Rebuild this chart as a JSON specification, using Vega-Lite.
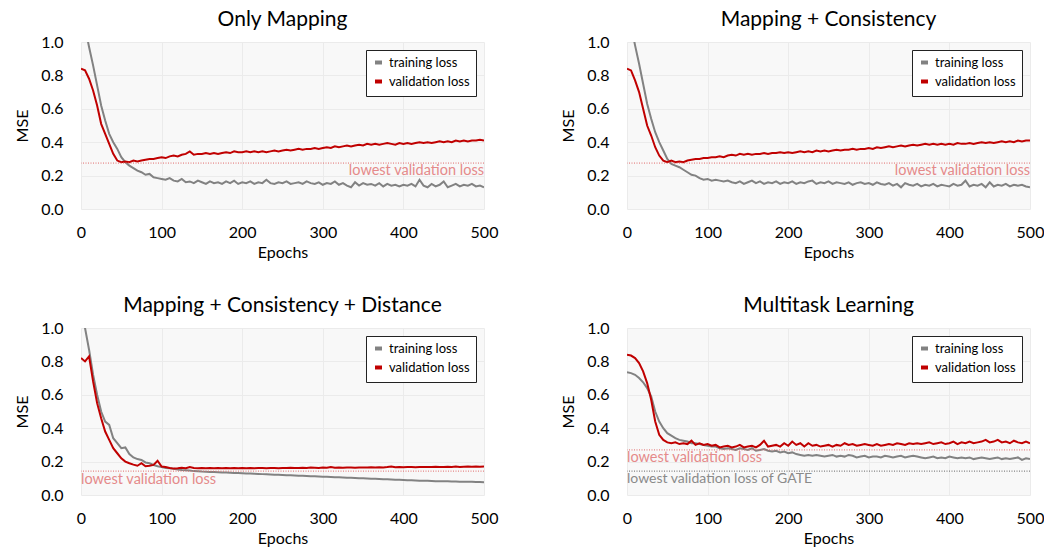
{
"$schema":"https://vega.github.io/schema/vega-lite/v6.json",
"padding":{"left":14,"top":9,"right":5,"bottom":5},
"datasets":{
"loss":[
{"p":1,"e":0,"t":1.22,"v":0.84},{"p":1,"e":5,"t":1.09,"v":0.83},{"p":1,"e":10,"t":0.97,"v":0.78},{"p":1,"e":15,"t":0.86,"v":0.71},{"p":1,"e":20,"t":0.74,"v":0.62},{"p":1,"e":25,"t":0.62,"v":0.51},{"p":1,"e":30,"t":0.53,"v":0.45},{"p":1,"e":35,"t":0.45,"v":0.39},{"p":1,"e":40,"t":0.40,"v":0.33},{"p":1,"e":45,"t":0.36,"v":0.29},
{"p":1,"e":50,"t":0.31,"v":0.28},{"p":1,"e":55,"t":0.28,"v":0.285},{"p":1,"e":60,"t":0.26,"v":0.28},{"p":1,"e":65,"t":0.245,"v":0.29},{"p":1,"e":70,"t":0.23,"v":0.285},{"p":1,"e":75,"t":0.22,"v":0.29},{"p":1,"e":80,"t":0.205,"v":0.295},{"p":1,"e":85,"t":0.21,"v":0.30},{"p":1,"e":90,"t":0.19,"v":0.30},{"p":1,"e":95,"t":0.185,"v":0.305},
{"p":1,"e":100,"t":0.18,"v":0.31},{"p":1,"e":105,"t":0.175,"v":0.305},{"p":1,"e":110,"t":0.185,"v":0.315},{"p":1,"e":115,"t":0.17,"v":0.32},{"p":1,"e":120,"t":0.165,"v":0.315},{"p":1,"e":125,"t":0.18,"v":0.325},{"p":1,"e":130,"t":0.16,"v":0.33},{"p":1,"e":135,"t":0.165,"v":0.345},{"p":1,"e":140,"t":0.155,"v":0.325},{"p":1,"e":145,"t":0.17,"v":0.33},
{"p":1,"e":150,"t":0.16,"v":0.33},{"p":1,"e":155,"t":0.15,"v":0.335},{"p":1,"e":160,"t":0.165,"v":0.33},{"p":1,"e":165,"t":0.155,"v":0.335},{"p":1,"e":170,"t":0.16,"v":0.33},{"p":1,"e":175,"t":0.15,"v":0.335},{"p":1,"e":180,"t":0.165,"v":0.34},{"p":1,"e":185,"t":0.155,"v":0.335},{"p":1,"e":190,"t":0.17,"v":0.345},{"p":1,"e":195,"t":0.15,"v":0.34},
{"p":1,"e":200,"t":0.16,"v":0.34},{"p":1,"e":205,"t":0.155,"v":0.345},{"p":1,"e":210,"t":0.165,"v":0.34},{"p":1,"e":215,"t":0.15,"v":0.345},{"p":1,"e":220,"t":0.16,"v":0.34},{"p":1,"e":225,"t":0.155,"v":0.345},{"p":1,"e":230,"t":0.175,"v":0.34},{"p":1,"e":235,"t":0.155,"v":0.345},{"p":1,"e":240,"t":0.15,"v":0.35},{"p":1,"e":245,"t":0.16,"v":0.345},
{"p":1,"e":250,"t":0.155,"v":0.35},{"p":1,"e":255,"t":0.165,"v":0.355},{"p":1,"e":260,"t":0.15,"v":0.35},{"p":1,"e":265,"t":0.155,"v":0.355},{"p":1,"e":270,"t":0.16,"v":0.36},{"p":1,"e":275,"t":0.15,"v":0.355},{"p":1,"e":280,"t":0.165,"v":0.36},{"p":1,"e":285,"t":0.155,"v":0.36},{"p":1,"e":290,"t":0.15,"v":0.365},{"p":1,"e":295,"t":0.16,"v":0.36},
{"p":1,"e":300,"t":0.145,"v":0.365},{"p":1,"e":305,"t":0.155,"v":0.37},{"p":1,"e":310,"t":0.15,"v":0.365},{"p":1,"e":315,"t":0.165,"v":0.375},{"p":1,"e":320,"t":0.145,"v":0.37},{"p":1,"e":325,"t":0.155,"v":0.375},{"p":1,"e":330,"t":0.14,"v":0.38},{"p":1,"e":335,"t":0.13,"v":0.375},{"p":1,"e":340,"t":0.16,"v":0.38},{"p":1,"e":345,"t":0.14,"v":0.385},
{"p":1,"e":350,"t":0.155,"v":0.38},{"p":1,"e":355,"t":0.145,"v":0.39},{"p":1,"e":360,"t":0.15,"v":0.385},{"p":1,"e":365,"t":0.14,"v":0.39},{"p":1,"e":370,"t":0.155,"v":0.385},{"p":1,"e":375,"t":0.135,"v":0.39},{"p":1,"e":380,"t":0.15,"v":0.395},{"p":1,"e":385,"t":0.14,"v":0.39},{"p":1,"e":390,"t":0.145,"v":0.385},{"p":1,"e":395,"t":0.135,"v":0.395},
{"p":1,"e":400,"t":0.145,"v":0.39},{"p":1,"e":405,"t":0.14,"v":0.395},{"p":1,"e":410,"t":0.15,"v":0.39},{"p":1,"e":415,"t":0.135,"v":0.395},{"p":1,"e":420,"t":0.175,"v":0.40},{"p":1,"e":425,"t":0.14,"v":0.395},{"p":1,"e":430,"t":0.13,"v":0.40},{"p":1,"e":435,"t":0.15,"v":0.395},{"p":1,"e":440,"t":0.135,"v":0.40},{"p":1,"e":445,"t":0.145,"v":0.405},
{"p":1,"e":450,"t":0.165,"v":0.40},{"p":1,"e":455,"t":0.13,"v":0.405},{"p":1,"e":460,"t":0.14,"v":0.40},{"p":1,"e":465,"t":0.15,"v":0.41},{"p":1,"e":470,"t":0.135,"v":0.405},{"p":1,"e":475,"t":0.145,"v":0.41},{"p":1,"e":480,"t":0.14,"v":0.405},{"p":1,"e":485,"t":0.15,"v":0.41},{"p":1,"e":490,"t":0.135,"v":0.41},{"p":1,"e":495,"t":0.14,"v":0.415},{"p":1,"e":500,"t":0.13,"v":0.41},

{"p":2,"e":0,"t":1.22,"v":0.84},{"p":2,"e":5,"t":1.10,"v":0.83},{"p":2,"e":10,"t":0.98,"v":0.77},{"p":2,"e":15,"t":0.87,"v":0.70},{"p":2,"e":20,"t":0.75,"v":0.60},{"p":2,"e":25,"t":0.63,"v":0.50},{"p":2,"e":30,"t":0.54,"v":0.44},{"p":2,"e":35,"t":0.46,"v":0.37},{"p":2,"e":40,"t":0.40,"v":0.32},{"p":2,"e":45,"t":0.35,"v":0.29},
{"p":2,"e":50,"t":0.30,"v":0.28},{"p":2,"e":55,"t":0.27,"v":0.29},{"p":2,"e":60,"t":0.26,"v":0.28},{"p":2,"e":65,"t":0.25,"v":0.285},{"p":2,"e":70,"t":0.235,"v":0.28},{"p":2,"e":75,"t":0.22,"v":0.29},{"p":2,"e":80,"t":0.205,"v":0.295},{"p":2,"e":85,"t":0.20,"v":0.30},{"p":2,"e":90,"t":0.185,"v":0.30},{"p":2,"e":95,"t":0.175,"v":0.305},
{"p":2,"e":100,"t":0.18,"v":0.305},{"p":2,"e":105,"t":0.17,"v":0.31},{"p":2,"e":110,"t":0.175,"v":0.31},{"p":2,"e":115,"t":0.17,"v":0.315},{"p":2,"e":120,"t":0.165,"v":0.31},{"p":2,"e":125,"t":0.17,"v":0.32},{"p":2,"e":130,"t":0.16,"v":0.325},{"p":2,"e":135,"t":0.155,"v":0.32},{"p":2,"e":140,"t":0.165,"v":0.33},{"p":2,"e":145,"t":0.15,"v":0.325},
{"p":2,"e":150,"t":0.16,"v":0.33},{"p":2,"e":155,"t":0.17,"v":0.325},{"p":2,"e":160,"t":0.155,"v":0.33},{"p":2,"e":165,"t":0.165,"v":0.33},{"p":2,"e":170,"t":0.15,"v":0.335},{"p":2,"e":175,"t":0.16,"v":0.33},{"p":2,"e":180,"t":0.155,"v":0.335},{"p":2,"e":185,"t":0.165,"v":0.335},{"p":2,"e":190,"t":0.15,"v":0.34},{"p":2,"e":195,"t":0.16,"v":0.335},
{"p":2,"e":200,"t":0.155,"v":0.34},{"p":2,"e":205,"t":0.165,"v":0.335},{"p":2,"e":210,"t":0.15,"v":0.34},{"p":2,"e":215,"t":0.16,"v":0.345},{"p":2,"e":220,"t":0.155,"v":0.34},{"p":2,"e":225,"t":0.165,"v":0.345},{"p":2,"e":230,"t":0.17,"v":0.34},{"p":2,"e":235,"t":0.15,"v":0.35},{"p":2,"e":240,"t":0.16,"v":0.345},{"p":2,"e":245,"t":0.155,"v":0.35},
{"p":2,"e":250,"t":0.165,"v":0.345},{"p":2,"e":255,"t":0.15,"v":0.35},{"p":2,"e":260,"t":0.16,"v":0.355},{"p":2,"e":265,"t":0.155,"v":0.35},{"p":2,"e":270,"t":0.15,"v":0.355},{"p":2,"e":275,"t":0.16,"v":0.355},{"p":2,"e":280,"t":0.145,"v":0.36},{"p":2,"e":285,"t":0.155,"v":0.355},{"p":2,"e":290,"t":0.16,"v":0.36},{"p":2,"e":295,"t":0.15,"v":0.36},
{"p":2,"e":300,"t":0.155,"v":0.365},{"p":2,"e":305,"t":0.145,"v":0.36},{"p":2,"e":310,"t":0.16,"v":0.37},{"p":2,"e":315,"t":0.15,"v":0.365},{"p":2,"e":320,"t":0.145,"v":0.37},{"p":2,"e":325,"t":0.155,"v":0.375},{"p":2,"e":330,"t":0.14,"v":0.37},{"p":2,"e":335,"t":0.15,"v":0.375},{"p":2,"e":340,"t":0.13,"v":0.38},{"p":2,"e":345,"t":0.155,"v":0.375},
{"p":2,"e":350,"t":0.145,"v":0.38},{"p":2,"e":355,"t":0.14,"v":0.385},{"p":2,"e":360,"t":0.15,"v":0.38},{"p":2,"e":365,"t":0.135,"v":0.385},{"p":2,"e":370,"t":0.145,"v":0.39},{"p":2,"e":375,"t":0.14,"v":0.385},{"p":2,"e":380,"t":0.15,"v":0.39},{"p":2,"e":385,"t":0.135,"v":0.385},{"p":2,"e":390,"t":0.145,"v":0.39},{"p":2,"e":395,"t":0.14,"v":0.385},
{"p":2,"e":400,"t":0.135,"v":0.39},{"p":2,"e":405,"t":0.15,"v":0.385},{"p":2,"e":410,"t":0.14,"v":0.395},{"p":2,"e":415,"t":0.145,"v":0.39},{"p":2,"e":420,"t":0.17,"v":0.39},{"p":2,"e":425,"t":0.135,"v":0.395},{"p":2,"e":430,"t":0.145,"v":0.39},{"p":2,"e":435,"t":0.14,"v":0.395},{"p":2,"e":440,"t":0.15,"v":0.40},{"p":2,"e":445,"t":0.13,"v":0.395},
{"p":2,"e":450,"t":0.16,"v":0.40},{"p":2,"e":455,"t":0.135,"v":0.395},{"p":2,"e":460,"t":0.145,"v":0.40},{"p":2,"e":465,"t":0.14,"v":0.405},{"p":2,"e":470,"t":0.15,"v":0.40},{"p":2,"e":475,"t":0.135,"v":0.405},{"p":2,"e":480,"t":0.145,"v":0.40},{"p":2,"e":485,"t":0.14,"v":0.41},{"p":2,"e":490,"t":0.145,"v":0.405},{"p":2,"e":495,"t":0.135,"v":0.41},{"p":2,"e":500,"t":0.13,"v":0.41},

{"p":3,"e":0,"t":1.15,"v":0.82},{"p":3,"e":5,"t":1.0,"v":0.80},{"p":3,"e":10,"t":0.87,"v":0.83},{"p":3,"e":15,"t":0.72,"v":0.68},{"p":3,"e":20,"t":0.60,"v":0.55},{"p":3,"e":25,"t":0.50,"v":0.46},{"p":3,"e":30,"t":0.44,"v":0.38},{"p":3,"e":35,"t":0.42,"v":0.33},{"p":3,"e":40,"t":0.34,"v":0.28},{"p":3,"e":45,"t":0.31,"v":0.25},
{"p":3,"e":50,"t":0.28,"v":0.22},{"p":3,"e":55,"t":0.285,"v":0.20},{"p":3,"e":60,"t":0.245,"v":0.19},{"p":3,"e":65,"t":0.225,"v":0.182},{"p":3,"e":70,"t":0.215,"v":0.175},{"p":3,"e":75,"t":0.21,"v":0.19},{"p":3,"e":80,"t":0.195,"v":0.172},{"p":3,"e":85,"t":0.19,"v":0.175},{"p":3,"e":90,"t":0.18,"v":0.18},{"p":3,"e":95,"t":0.172,"v":0.205},
{"p":3,"e":100,"t":0.168,"v":0.17},{"p":3,"e":105,"t":0.162,"v":0.168},{"p":3,"e":110,"t":0.16,"v":0.162},{"p":3,"e":115,"t":0.157,"v":0.158},{"p":3,"e":120,"t":0.153,"v":0.16},{"p":3,"e":125,"t":0.15,"v":0.163},{"p":3,"e":130,"t":0.148,"v":0.16},{"p":3,"e":135,"t":0.146,"v":0.168},{"p":3,"e":140,"t":0.143,"v":0.162},{"p":3,"e":145,"t":0.142,"v":0.16},
{"p":3,"e":150,"t":0.14,"v":0.161},{"p":3,"e":155,"t":0.139,"v":0.16},{"p":3,"e":160,"t":0.138,"v":0.162},{"p":3,"e":165,"t":0.137,"v":0.16},{"p":3,"e":170,"t":0.136,"v":0.161},{"p":3,"e":175,"t":0.135,"v":0.16},{"p":3,"e":180,"t":0.134,"v":0.162},{"p":3,"e":185,"t":0.133,"v":0.16},{"p":3,"e":190,"t":0.132,"v":0.161},{"p":3,"e":195,"t":0.131,"v":0.16},
{"p":3,"e":200,"t":0.13,"v":0.162},{"p":3,"e":205,"t":0.129,"v":0.16},{"p":3,"e":210,"t":0.128,"v":0.161},{"p":3,"e":215,"t":0.127,"v":0.16},{"p":3,"e":220,"t":0.126,"v":0.162},{"p":3,"e":225,"t":0.125,"v":0.161},{"p":3,"e":230,"t":0.124,"v":0.16},{"p":3,"e":235,"t":0.123,"v":0.162},{"p":3,"e":240,"t":0.122,"v":0.161},{"p":3,"e":245,"t":0.121,"v":0.16},
{"p":3,"e":250,"t":0.12,"v":0.162},{"p":3,"e":255,"t":0.119,"v":0.161},{"p":3,"e":260,"t":0.118,"v":0.163},{"p":3,"e":265,"t":0.117,"v":0.162},{"p":3,"e":270,"t":0.116,"v":0.161},{"p":3,"e":275,"t":0.115,"v":0.163},{"p":3,"e":280,"t":0.114,"v":0.162},{"p":3,"e":285,"t":0.113,"v":0.164},{"p":3,"e":290,"t":0.112,"v":0.163},{"p":3,"e":295,"t":0.111,"v":0.162},
{"p":3,"e":300,"t":0.11,"v":0.164},{"p":3,"e":305,"t":0.109,"v":0.163},{"p":3,"e":310,"t":0.108,"v":0.168},{"p":3,"e":315,"t":0.107,"v":0.163},{"p":3,"e":320,"t":0.106,"v":0.164},{"p":3,"e":325,"t":0.105,"v":0.163},{"p":3,"e":330,"t":0.104,"v":0.165},{"p":3,"e":335,"t":0.103,"v":0.164},{"p":3,"e":340,"t":0.102,"v":0.163},{"p":3,"e":345,"t":0.101,"v":0.165},
{"p":3,"e":350,"t":0.1,"v":0.164},{"p":3,"e":355,"t":0.099,"v":0.165},{"p":3,"e":360,"t":0.098,"v":0.166},{"p":3,"e":365,"t":0.097,"v":0.165},{"p":3,"e":370,"t":0.096,"v":0.166},{"p":3,"e":375,"t":0.095,"v":0.165},{"p":3,"e":380,"t":0.094,"v":0.167},{"p":3,"e":385,"t":0.093,"v":0.171},{"p":3,"e":390,"t":0.092,"v":0.166},{"p":3,"e":395,"t":0.091,"v":0.167},
{"p":3,"e":400,"t":0.09,"v":0.166},{"p":3,"e":405,"t":0.089,"v":0.168},{"p":3,"e":410,"t":0.088,"v":0.167},{"p":3,"e":415,"t":0.087,"v":0.166},{"p":3,"e":420,"t":0.086,"v":0.168},{"p":3,"e":425,"t":0.085,"v":0.167},{"p":3,"e":430,"t":0.085,"v":0.168},{"p":3,"e":435,"t":0.084,"v":0.167},{"p":3,"e":440,"t":0.083,"v":0.169},{"p":3,"e":445,"t":0.083,"v":0.168},
{"p":3,"e":450,"t":0.082,"v":0.167},{"p":3,"e":455,"t":0.082,"v":0.169},{"p":3,"e":460,"t":0.081,"v":0.168},{"p":3,"e":465,"t":0.081,"v":0.17},{"p":3,"e":470,"t":0.08,"v":0.168},{"p":3,"e":475,"t":0.08,"v":0.169},{"p":3,"e":480,"t":0.079,"v":0.17},{"p":3,"e":485,"t":0.079,"v":0.169},{"p":3,"e":490,"t":0.078,"v":0.17},{"p":3,"e":495,"t":0.078,"v":0.169},{"p":3,"e":500,"t":0.077,"v":0.17},

{"p":4,"e":0,"t":0.735,"v":0.84},{"p":4,"e":5,"t":0.73,"v":0.835},{"p":4,"e":10,"t":0.72,"v":0.82},{"p":4,"e":15,"t":0.70,"v":0.79},{"p":4,"e":20,"t":0.675,"v":0.74},{"p":4,"e":25,"t":0.64,"v":0.67},{"p":4,"e":30,"t":0.59,"v":0.57},{"p":4,"e":35,"t":0.50,"v":0.44},{"p":4,"e":40,"t":0.44,"v":0.36},{"p":4,"e":45,"t":0.40,"v":0.33},
{"p":4,"e":50,"t":0.37,"v":0.315},{"p":4,"e":55,"t":0.355,"v":0.31},{"p":4,"e":60,"t":0.34,"v":0.315},{"p":4,"e":65,"t":0.33,"v":0.305},{"p":4,"e":70,"t":0.325,"v":0.31},{"p":4,"e":75,"t":0.32,"v":0.305},{"p":4,"e":80,"t":0.31,"v":0.325},{"p":4,"e":85,"t":0.31,"v":0.30},{"p":4,"e":90,"t":0.305,"v":0.31},{"p":4,"e":95,"t":0.30,"v":0.30},
{"p":4,"e":100,"t":0.295,"v":0.305},{"p":4,"e":105,"t":0.29,"v":0.295},{"p":4,"e":110,"t":0.29,"v":0.30},{"p":4,"e":115,"t":0.28,"v":0.285},{"p":4,"e":120,"t":0.275,"v":0.29},{"p":4,"e":125,"t":0.28,"v":0.295},{"p":4,"e":130,"t":0.275,"v":0.285},{"p":4,"e":135,"t":0.27,"v":0.29},{"p":4,"e":140,"t":0.28,"v":0.30},{"p":4,"e":145,"t":0.275,"v":0.285},
{"p":4,"e":150,"t":0.27,"v":0.29},{"p":4,"e":155,"t":0.28,"v":0.295},{"p":4,"e":160,"t":0.265,"v":0.285},{"p":4,"e":165,"t":0.27,"v":0.30},{"p":4,"e":170,"t":0.275,"v":0.325},{"p":4,"e":175,"t":0.265,"v":0.29},{"p":4,"e":180,"t":0.26,"v":0.295},{"p":4,"e":185,"t":0.265,"v":0.30},{"p":4,"e":190,"t":0.255,"v":0.29},{"p":4,"e":195,"t":0.26,"v":0.31},
{"p":4,"e":200,"t":0.25,"v":0.295},{"p":4,"e":205,"t":0.255,"v":0.32},{"p":4,"e":210,"t":0.245,"v":0.30},{"p":4,"e":215,"t":0.24,"v":0.31},{"p":4,"e":220,"t":0.235,"v":0.29},{"p":4,"e":225,"t":0.24,"v":0.31},{"p":4,"e":230,"t":0.235,"v":0.295},{"p":4,"e":235,"t":0.24,"v":0.30},{"p":4,"e":240,"t":0.235,"v":0.29},{"p":4,"e":245,"t":0.23,"v":0.295},
{"p":4,"e":250,"t":0.235,"v":0.30},{"p":4,"e":255,"t":0.24,"v":0.29},{"p":4,"e":260,"t":0.23,"v":0.30},{"p":4,"e":265,"t":0.235,"v":0.295},{"p":4,"e":270,"t":0.23,"v":0.31},{"p":4,"e":275,"t":0.24,"v":0.30},{"p":4,"e":280,"t":0.235,"v":0.305},{"p":4,"e":285,"t":0.225,"v":0.295},{"p":4,"e":290,"t":0.23,"v":0.30},{"p":4,"e":295,"t":0.235,"v":0.305},
{"p":4,"e":300,"t":0.225,"v":0.30},{"p":4,"e":305,"t":0.23,"v":0.295},{"p":4,"e":310,"t":0.23,"v":0.305},{"p":4,"e":315,"t":0.225,"v":0.295},{"p":4,"e":320,"t":0.235,"v":0.30},{"p":4,"e":325,"t":0.23,"v":0.305},{"p":4,"e":330,"t":0.225,"v":0.30},{"p":4,"e":335,"t":0.23,"v":0.31},{"p":4,"e":340,"t":0.235,"v":0.305},{"p":4,"e":345,"t":0.225,"v":0.30},
{"p":4,"e":350,"t":0.23,"v":0.31},{"p":4,"e":355,"t":0.235,"v":0.305},{"p":4,"e":360,"t":0.23,"v":0.31},{"p":4,"e":365,"t":0.225,"v":0.305},{"p":4,"e":370,"t":0.22,"v":0.31},{"p":4,"e":375,"t":0.225,"v":0.315},{"p":4,"e":380,"t":0.23,"v":0.305},{"p":4,"e":385,"t":0.22,"v":0.31},{"p":4,"e":390,"t":0.225,"v":0.315},{"p":4,"e":395,"t":0.22,"v":0.305},
{"p":4,"e":400,"t":0.23,"v":0.31},{"p":4,"e":405,"t":0.225,"v":0.32},{"p":4,"e":410,"t":0.22,"v":0.305},{"p":4,"e":415,"t":0.225,"v":0.315},{"p":4,"e":420,"t":0.22,"v":0.31},{"p":4,"e":425,"t":0.225,"v":0.32},{"p":4,"e":430,"t":0.215,"v":0.31},{"p":4,"e":435,"t":0.22,"v":0.315},{"p":4,"e":440,"t":0.225,"v":0.32},{"p":4,"e":445,"t":0.22,"v":0.33},
{"p":4,"e":450,"t":0.215,"v":0.315},{"p":4,"e":455,"t":0.22,"v":0.32},{"p":4,"e":460,"t":0.225,"v":0.33},{"p":4,"e":465,"t":0.215,"v":0.315},{"p":4,"e":470,"t":0.22,"v":0.32},{"p":4,"e":475,"t":0.215,"v":0.31},{"p":4,"e":480,"t":0.22,"v":0.325},{"p":4,"e":485,"t":0.225,"v":0.315},{"p":4,"e":490,"t":0.21,"v":0.31},{"p":4,"e":495,"t":0.22,"v":0.32},{"p":4,"e":500,"t":0.215,"v":0.31}
],
"refs":[
{"p":1,"kind":"best","y":0.275,"label":"lowest validation loss"},
{"p":2,"kind":"best","y":0.275,"label":"lowest validation loss"},
{"p":3,"kind":"best","y":0.143,"label":"lowest validation loss"},
{"p":4,"kind":"best","y":0.27,"label":"lowest validation loss"},
{"p":4,"kind":"gate","y":0.143,"label":"lowest validation loss of GATE"}
]
},
"columns":2,
"spacing":{"row":35,"column":62},
"resolve":{"scale":{"color":"independent"},"legend":{"color":"independent"}},
"concat":[
{"title":"Only Mapping","width":403,"height":167,
"layer":[
{"data":{"name":"loss"},"transform":[{"filter":"datum.p==1"},{"fold":["t","v"],"as":["s","y"]}],"mark":{"type":"line","clip":true,"strokeWidth":2},
"encoding":{"x":{"field":"e","type":"quantitative","scale":{"domain":[0,500]},"axis":{"title":"Epochs","tickCount":5}},
"y":{"field":"y","type":"quantitative","scale":{"domain":[0,1],"nice":false},"axis":{"title":"MSE","tickCount":5,"format":".1f","labelOverlap":false}},
"color":{"field":"s","type":"nominal","scale":{"domain":["t","v"],"range":["#828282","#c00000"]},"legend":{"title":null,"labelExpr":"datum.label=='t'?'training loss':'validation loss'"}}}},
{"data":{"name":"refs"},"transform":[{"filter":"datum.p==1 && datum.kind=='best'"}],"mark":{"type":"rule","strokeDash":[1,1.5],"color":"#e06a6a","strokeWidth":1},"encoding":{"y":{"field":"y","type":"quantitative"}}},
{"data":{"name":"refs"},"transform":[{"filter":"datum.p==1 && datum.kind=='best'"}],"mark":{"type":"text","align":"right","baseline":"middle","dy":8,"fontSize":14.5,"color":"#e58a8a"},"encoding":{"x":{"datum":500},"y":{"field":"y","type":"quantitative"},"text":{"field":"label"}}}
]},
{"title":"Mapping + Consistency","width":403,"height":167,
"layer":[
{"data":{"name":"loss"},"transform":[{"filter":"datum.p==2"},{"fold":["t","v"],"as":["s","y"]}],"mark":{"type":"line","clip":true,"strokeWidth":2},
"encoding":{"x":{"field":"e","type":"quantitative","scale":{"domain":[0,500]},"axis":{"title":"Epochs","tickCount":5}},
"y":{"field":"y","type":"quantitative","scale":{"domain":[0,1],"nice":false},"axis":{"title":"MSE","tickCount":5,"format":".1f","labelOverlap":false}},
"color":{"field":"s","type":"nominal","scale":{"domain":["t","v"],"range":["#828282","#c00000"]},"legend":{"title":null,"labelExpr":"datum.label=='t'?'training loss':'validation loss'"}}}},
{"data":{"name":"refs"},"transform":[{"filter":"datum.p==2 && datum.kind=='best'"}],"mark":{"type":"rule","strokeDash":[1,1.5],"color":"#e06a6a","strokeWidth":1},"encoding":{"y":{"field":"y","type":"quantitative"}}},
{"data":{"name":"refs"},"transform":[{"filter":"datum.p==2 && datum.kind=='best'"}],"mark":{"type":"text","align":"right","baseline":"middle","dy":8,"fontSize":14.5,"color":"#e58a8a"},"encoding":{"x":{"datum":500},"y":{"field":"y","type":"quantitative"},"text":{"field":"label"}}}
]},
{"title":"Mapping + Consistency + Distance","width":403,"height":167,
"layer":[
{"data":{"name":"loss"},"transform":[{"filter":"datum.p==3"},{"fold":["t","v"],"as":["s","y"]}],"mark":{"type":"line","clip":true,"strokeWidth":2},
"encoding":{"x":{"field":"e","type":"quantitative","scale":{"domain":[0,500]},"axis":{"title":"Epochs","tickCount":5}},
"y":{"field":"y","type":"quantitative","scale":{"domain":[0,1],"nice":false},"axis":{"title":"MSE","tickCount":5,"format":".1f","labelOverlap":false}},
"color":{"field":"s","type":"nominal","scale":{"domain":["t","v"],"range":["#828282","#c00000"]},"legend":{"title":null,"labelExpr":"datum.label=='t'?'training loss':'validation loss'"}}}},
{"data":{"name":"refs"},"transform":[{"filter":"datum.p==3 && datum.kind=='best'"}],"mark":{"type":"rule","strokeDash":[1,1.5],"color":"#e06a6a","strokeWidth":1},"encoding":{"y":{"field":"y","type":"quantitative"}}},
{"data":{"name":"refs"},"transform":[{"filter":"datum.p==3 && datum.kind=='best'"}],"mark":{"type":"text","align":"left","baseline":"middle","dy":9,"fontSize":14.5,"color":"#e58a8a"},"encoding":{"x":{"datum":0},"y":{"field":"y","type":"quantitative"},"text":{"field":"label"}}}
]},
{"title":"Multitask Learning","width":403,"height":167,
"layer":[
{"data":{"name":"loss"},"transform":[{"filter":"datum.p==4"},{"fold":["t","v"],"as":["s","y"]}],"mark":{"type":"line","clip":true,"strokeWidth":2},
"encoding":{"x":{"field":"e","type":"quantitative","scale":{"domain":[0,500]},"axis":{"title":"Epochs","tickCount":5}},
"y":{"field":"y","type":"quantitative","scale":{"domain":[0,1],"nice":false},"axis":{"title":"MSE","tickCount":5,"format":".1f","labelOverlap":false}},
"color":{"field":"s","type":"nominal","scale":{"domain":["t","v"],"range":["#828282","#c00000"]},"legend":{"title":null,"labelExpr":"datum.label=='t'?'training loss':'validation loss'"}}}},
{"data":{"name":"refs"},"transform":[{"filter":"datum.p==4 && datum.kind=='best'"}],"mark":{"type":"rule","strokeDash":[1,1.5],"color":"#e06a6a","strokeWidth":1},"encoding":{"y":{"field":"y","type":"quantitative"}}},
{"data":{"name":"refs"},"transform":[{"filter":"datum.p==4 && datum.kind=='gate'"}],"mark":{"type":"rule","strokeDash":[1,1.5],"color":"#666666","strokeWidth":1},"encoding":{"y":{"field":"y","type":"quantitative"}}},
{"data":{"name":"refs"},"transform":[{"filter":"datum.p==4 && datum.kind=='best'"}],"mark":{"type":"text","align":"left","baseline":"middle","dy":8,"fontSize":14.5,"color":"#e58a8a"},"encoding":{"x":{"datum":0},"y":{"field":"y","type":"quantitative"},"text":{"field":"label"}}},
{"data":{"name":"refs"},"transform":[{"filter":"datum.p==4 && datum.kind=='gate'"}],"mark":{"type":"text","align":"left","baseline":"middle","dy":8,"fontSize":14,"color":"#8a8a8a"},"encoding":{"x":{"datum":0},"y":{"field":"y","type":"quantitative"},"text":{"field":"label"}}}
]}
],
"config":{
"font":"Lato",
"view":{"fill":"#f8f8f8","stroke":null},
"axis":{"gridColor":"#ebebeb","domain":false,"ticks":false,"labelFontSize":16,"titleFontSize":16,"titleFontWeight":"normal","labelColor":"#000","titleColor":"#000","labelFlush":false},
"axisX":{"labelPadding":15,"titlePadding":4},
"axisY":{"labelPadding":18,"titlePadding":10},
"title":{"fontSize":21,"fontWeight":"normal","frame":"group","anchor":"middle","offset":4,"color":"#000"},
"legend":{"orient":"top-right","offset":8,"fillColor":"#ffffff","strokeColor":"#222222","padding":6,"labelFontSize":13,"labelColor":"#000","symbolType":"stroke","symbolStrokeWidth":4,"symbolSize":49,"rowPadding":2,"cornerRadius":0}
}
}
